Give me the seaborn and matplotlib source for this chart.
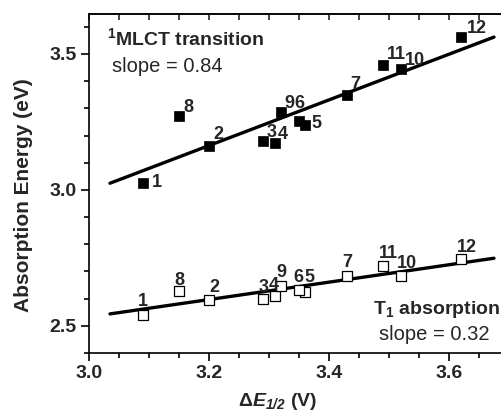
import numpy as np
import pandas as pd
import matplotlib
matplotlib.use("Agg")
import matplotlib.pyplot as plt
from matplotlib.ticker import MultipleLocator
import seaborn as sns

# Complex numbers and their data
labels = ["1", "2", "3", "4", "5", "6", "7", "8", "9", "10", "11", "12"]
delta_e = [3.09, 3.20, 3.29, 3.31, 3.36, 3.35, 3.43, 3.15, 3.32, 3.52, 3.49, 3.62]
mlct_energy = [3.026, 3.162, 3.180, 3.173, 3.239, 3.254, 3.350, 3.272, 3.287, 3.445, 3.460, 3.562]
t1_energy = [2.540, 2.596, 2.600, 2.610, 2.625, 2.632, 2.684, 2.629, 2.647, 2.684, 2.720, 2.746]
mlct_slope = 0.84
t1_slope = 0.32

# label offsets in pixels (dx, dy; dy positive = up)
mlct_off = {"1": (14, 0), "2": (9, 11), "3": (9, 8), "4": (8, 8), "5": (11, 1), "6": (0, 17),
            "7": (8, 10), "8": (9, 8), "9": (8, 8), "10": (14, 8), "11": (13, 10), "12": (16, 9)}
t1_off = {"1": (0, 13), "2": (5, 12), "3": (1, 11), "4": (-1, 10), "5": (4, 14), "6": (-1, 12),
          "7": (0, 13), "8": (0, 10), "9": (0, 13), "10": (6, 12), "11": (5, 13), "12": (6, 11)}

sns.set_theme(style="ticks")
plt.rcParams["font.family"] = ["Liberation Sans", "DejaVu Sans"]
plt.rcParams["mathtext.fontset"] = "custom"
plt.rcParams["mathtext.rm"] = "Liberation Sans"
plt.rcParams["mathtext.bf"] = "Liberation Sans:bold"
plt.rcParams["mathtext.it"] = "Liberation Sans:italic"
plt.rcParams["mathtext.bfit"] = "Liberation Sans:italic:bold"

df = pd.DataFrame({"label": labels, "dE": delta_e, "mlct": mlct_energy, "t1": t1_energy})

W, H = 501, 416
fig = plt.figure(figsize=(W / 100, H / 100), dpi=100)
ax = fig.add_axes([89 / W, 1 - 353 / H, 1 - 89 / W, (353 - 14) / H])

x0, x1 = 3.0, 3.0 + 412 / 600
ax.set_xlim(x0, x1)
ax.set_ylim(2.40, 3.647)

# linear fits with fixed slopes through the centroid
xfit = np.array([3.035, 3.675])
for col, slope in ((df["mlct"], mlct_slope), (df["t1"], t1_slope)):
    b = col.mean() - slope * df["dE"].mean()
    sns.lineplot(x=xfit, y=b + slope * xfit, ax=ax, color="black", lw=2.4, zorder=3)

sns.scatterplot(data=df, x="dE", y="mlct", marker="s", s=60, color="black",
                edgecolor="black", linewidth=0.5, ax=ax, zorder=4)
sns.scatterplot(data=df, x="dE", y="t1", marker="s", s=55, facecolor="white",
                edgecolor="black", linewidth=0.9, ax=ax, zorder=4)

for _, r in df.iterrows():
    dx, dy = mlct_off[r["label"]]
    ax.annotate(r["label"], (r["dE"], r["mlct"]), xytext=(dx, dy), textcoords="offset pixels",
                ha="center", va="center", fontsize=13, fontweight="bold", zorder=5)
    dx, dy = t1_off[r["label"]]
    ax.annotate(r["label"], (r["dE"], r["t1"]), xytext=(dx, dy), textcoords="offset pixels",
                ha="center", va="center", fontsize=13, fontweight="bold", zorder=5)

# axes styling
for s in ("left", "bottom", "top"):
    ax.spines[s].set_linewidth(1.2)
    ax.spines[s].set_color("black")
ax.spines["right"].set_visible(False)
ax.xaxis.set_major_locator(MultipleLocator(0.2))
ax.xaxis.set_minor_locator(MultipleLocator(0.05))
ax.yaxis.set_major_locator(MultipleLocator(0.5))
ax.yaxis.set_minor_locator(MultipleLocator(0.1))
ax.xaxis.set_major_formatter(plt.FormatStrFormatter("%.1f"))
ax.yaxis.set_major_formatter(plt.FormatStrFormatter("%.1f"))
ax.tick_params(which="major", direction="out", length=6, width=1.2, color="black",
               labelsize=14, pad=3)
ax.tick_params(which="minor", direction="out", length=3.5, width=1.2, color="black")
for lab in ax.get_xticklabels() + ax.get_yticklabels():
    lab.set_fontweight("bold")

top = ax.secondary_xaxis("top")
top.xaxis.set_major_locator(MultipleLocator(0.2))
top.xaxis.set_minor_locator(MultipleLocator(0.05))
top.tick_params(which="both", direction="in", length=4, width=1.2, labeltop=False)
top.spines["top"].set_linewidth(1.2)

ax.set_xlabel("")
ax.set_ylabel("")
fig.text(278 / W, 1 - 401 / H, r"$\mathbf{\Delta}\mathbfit{E}_{\mathbfit{1/2}}$ (V)",
         fontsize=14, fontweight="bold", ha="center", va="center")
fig.text(24 / W, 1 - 195.5 / H, "Absorption Energy (eV)", fontsize=15,
         fontweight="bold", rotation=90, ha="center", va="center")

# series annotations
fig.text(107 / W, 1 - 38 / H, r"$^{\mathbf{1}}$MLCT transition", fontsize=14,
         fontweight="bold", ha="left", va="center")
fig.text(112 / W, 1 - 67 / H, f"slope = {mlct_slope:.2f}", fontsize=14.5,
         ha="left", va="center")
fig.text(373 / W, 1 - 310 / H, r"T$_{\mathbf{1}}$ absorption", fontsize=14,
         fontweight="bold", ha="left", va="center")
fig.text(379 / W, 1 - 335 / H, f"slope = {t1_slope:.2f}", fontsize=14.5,
         ha="left", va="center")

fig.savefig("out.png", dpi=100)
